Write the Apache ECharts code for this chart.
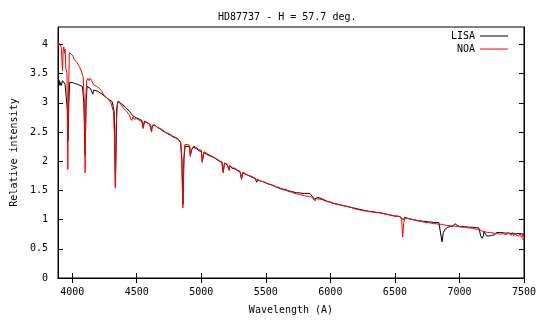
<!DOCTYPE html>
<html>
<head>
<meta charset="utf-8">
<script src="https://cdn.jsdelivr.net/npm/echarts@6/dist/echarts.min.js"></script>
<style>
  html, body { margin: 0; padding: 0; background: #fff; }
  #chart { width: 540px; height: 320px; }
</style>
</head>
<body>
<div id="chart"></div>
<script>
// 波长刻度 / 强度刻度
var xTicks = [4000, 4500, 5000, 5500, 6000, 6500, 7000, 7500];
var yTicks = [0, 0.5, 1, 1.5, 2, 2.5, 3, 3.5, 4];

// LISA 光谱 [波长, 相对强度]
var lisa = [
    [3890, 3.42], [3900, 3.38], [3905, 3.30], [3910, 3.35], [3915, 3.30], [3925, 3.38], [3935, 3.36],
    [3945, 3.32], [3955, 3.30], [3962, 2.90], [3968, 2.35], [3974, 3.00], [3980, 3.35],
    [3990, 3.38], [4000, 3.35], [4010, 3.37], [4020, 3.33], [4030, 3.35], [4040, 3.32],
    [4050, 3.34], [4060, 3.30], [4070, 3.33], [4080, 3.28], [4090, 3.00], [4100, 2.10],
    [4108, 3.00], [4115, 3.28], [4125, 3.30], [4140, 3.25], [4150, 3.28], [4160, 3.15], [4165, 3.22],
    [4180, 3.25], [4195, 3.20], [4210, 3.22], [4225, 3.16], [4240, 3.18], [4260, 3.10],
    [4275, 3.12], [4290, 3.05], [4310, 3.02], [4325, 2.85], [4335, 1.55], [4345, 2.90],
    [4355, 3.03], [4370, 3.00], [4385, 2.98], [4400, 2.96], [4415, 2.92], [4430, 2.90],
    [4445, 2.85], [4460, 2.86], [4470, 2.78], [4480, 2.80], [4500, 2.74], [4520, 2.72],
    [4540, 2.70], [4550, 2.58], [4560, 2.69], [4580, 2.66], [4600, 2.64], [4615, 2.52], [4620, 2.60], [4640, 2.62],
    [4660, 2.58], [4680, 2.56], [4700, 2.52], [4720, 2.50], [4740, 2.47], [4760, 2.45],
    [4780, 2.42], [4800, 2.40], [4820, 2.38], [4840, 2.32], [4850, 2.00], [4858, 1.26],
    [4866, 2.05], [4875, 2.26], [4890, 2.26], [4910, 2.25], [4915, 2.10], [4925, 2.20], [4940, 2.24],
    [4960, 2.22], [4980, 2.18], [5000, 2.17], [5007, 2.00], [5020, 2.15], [5040, 2.12], [5060, 2.10],
    [5080, 2.08], [5100, 2.06], [5120, 2.03], [5140, 2.00], [5160, 1.98], [5170, 1.82],
    [5180, 1.97], [5200, 1.94], [5217, 1.85], [5220, 1.92], [5240, 1.88], [5260, 1.87], [5280, 1.84],
    [5300, 1.82], [5312, 1.70], [5320, 1.80], [5340, 1.78], [5360, 1.76], [5380, 1.74], [5400, 1.72],
    [5420, 1.70], [5428, 1.64], [5440, 1.68], [5460, 1.66], [5480, 1.65], [5500, 1.63],
    [5520, 1.61], [5540, 1.60], [5560, 1.58], [5580, 1.56], [5600, 1.55], [5620, 1.53],
    [5640, 1.52], [5660, 1.51], [5680, 1.49], [5700, 1.48], [5720, 1.47], [5740, 1.46],
    [5760, 1.46], [5780, 1.45], [5800, 1.45], [5820, 1.45], [5840, 1.45], [5860, 1.40],
    [5875, 1.35], [5890, 1.33], [5900, 1.38], [5920, 1.37], [5940, 1.35], [5960, 1.33],
    [5980, 1.31], [6000, 1.30], [6020, 1.28], [6040, 1.27], [6060, 1.26], [6080, 1.25],
    [6100, 1.24], [6120, 1.23], [6140, 1.22], [6160, 1.21], [6180, 1.20], [6200, 1.19],
    [6220, 1.18], [6240, 1.17], [6260, 1.16], [6280, 1.15], [6300, 1.14], [6320, 1.14],
    [6340, 1.13], [6360, 1.12], [6380, 1.12], [6400, 1.11], [6420, 1.10], [6440, 1.09],
    [6460, 1.08], [6480, 1.07], [6500, 1.06], [6520, 1.06], [6540, 1.05], [6555, 1.02],
    [6565, 1.00], [6575, 1.04], [6600, 1.02], [6620, 1.01], [6640, 1.00], [6660, 0.99],
    [6680, 0.98], [6700, 0.98], [6720, 0.97], [6740, 0.97], [6760, 0.96], [6780, 0.96],
    [6800, 0.95], [6820, 0.95], [6840, 0.95], [6855, 0.95], [6865, 0.62], [6875, 0.78],
    [6890, 0.84], [6910, 0.87], [6930, 0.88], [6950, 0.89], [6965, 0.93], [6975, 0.90],
    [6990, 0.89], [7010, 0.88], [7040, 0.88], [7070, 0.87], [7100, 0.87], [7130, 0.86],
    [7150, 0.86], [7165, 0.72], [7175, 0.68], [7185, 0.72], [7190, 0.80], [7200, 0.79],
    [7210, 0.72], [7230, 0.72], [7250, 0.73], [7270, 0.74], [7290, 0.78], [7320, 0.78],
    [7350, 0.77], [7380, 0.77], [7410, 0.76], [7440, 0.76], [7470, 0.76], [7500, 0.75]
];

// NOA 光谱 [波长, 相对强度]
var noa = [
    [3890, 4.06], [3895, 3.98], [3900, 4.02], [3910, 4.00], [3915, 3.95], [3920, 3.98],
    [3925, 3.55], [3930, 3.90], [3935, 3.96], [3940, 3.85], [3945, 3.92], [3950, 3.60],
    [3955, 3.55], [3960, 3.50], [3966, 1.86], [3972, 3.20], [3978, 3.86], [3990, 3.84],
    [4000, 3.82], [4010, 3.78], [4015, 3.74], [4025, 3.72], [4035, 3.70], [4045, 3.66],
    [4055, 3.62], [4065, 3.58], [4075, 3.55], [4085, 3.45], [4094, 3.00], [4100, 1.80],
    [4106, 3.10], [4112, 3.38], [4120, 3.42], [4130, 3.38], [4140, 3.42], [4150, 3.38],
    [4160, 3.36], [4170, 3.30], [4180, 3.32], [4190, 3.28], [4200, 3.26], [4210, 3.25],
    [4220, 3.22], [4230, 3.20], [4240, 3.15], [4250, 3.16], [4260, 3.10], [4270, 3.08],
    [4280, 3.06], [4290, 3.04], [4300, 3.00], [4310, 2.98], [4320, 2.85], [4328, 2.40],
    [4334, 1.55], [4340, 2.60], [4350, 2.98], [4360, 3.02], [4375, 2.98], [4390, 2.96],
    [4400, 2.90], [4410, 2.92], [4420, 2.86], [4430, 2.88], [4440, 2.80], [4450, 2.82],
    [4460, 2.70], [4470, 2.76], [4480, 2.72], [4500, 2.73], [4520, 2.70], [4540, 2.68],
    [4550, 2.56], [4560, 2.68], [4580, 2.66], [4600, 2.64], [4615, 2.50], [4620, 2.62], [4640, 2.62], [4660, 2.58],
    [4680, 2.56], [4700, 2.54], [4720, 2.50], [4740, 2.48], [4760, 2.46], [4780, 2.43],
    [4800, 2.41], [4820, 2.38], [4840, 2.33], [4848, 2.10], [4857, 1.20], [4864, 2.00],
    [4872, 2.28], [4890, 2.29], [4910, 2.27], [4915, 2.08], [4925, 2.20], [4940, 2.26], [4960, 2.24],
    [4980, 2.20], [5000, 2.19], [5007, 1.98], [5020, 2.16], [5040, 2.14], [5060, 2.11], [5080, 2.09],
    [5100, 2.06], [5120, 2.04], [5140, 2.01], [5160, 1.99], [5170, 1.80], [5180, 1.97],
    [5200, 1.95], [5217, 1.84], [5220, 1.93], [5240, 1.89], [5260, 1.88], [5280, 1.85], [5300, 1.83],
    [5312, 1.69], [5320, 1.81], [5340, 1.79], [5360, 1.76], [5380, 1.75], [5400, 1.73], [5420, 1.70],
    [5440, 1.68], [5460, 1.66], [5480, 1.65], [5500, 1.63], [5520, 1.61], [5540, 1.60],
    [5560, 1.58], [5580, 1.56], [5600, 1.54], [5620, 1.52], [5640, 1.51], [5660, 1.50],
    [5680, 1.48], [5700, 1.47], [5720, 1.45], [5740, 1.44], [5760, 1.43], [5780, 1.42],
    [5800, 1.41], [5820, 1.40], [5840, 1.40], [5860, 1.38], [5880, 1.32], [5890, 1.36],
    [5900, 1.37], [5920, 1.35], [5940, 1.34], [5960, 1.32], [5980, 1.31], [6000, 1.30],
    [6020, 1.28], [6040, 1.27], [6060, 1.26], [6080, 1.25], [6100, 1.24], [6120, 1.23],
    [6140, 1.22], [6160, 1.21], [6180, 1.19], [6200, 1.18], [6220, 1.17], [6240, 1.16],
    [6260, 1.15], [6280, 1.15], [6300, 1.14], [6320, 1.13], [6340, 1.13], [6360, 1.12],
    [6380, 1.12], [6400, 1.11], [6420, 1.10], [6440, 1.09], [6460, 1.08], [6480, 1.07],
    [6500, 1.06], [6520, 1.06], [6540, 1.05], [6552, 1.00], [6560, 0.70], [6568, 0.95],
    [6580, 1.03], [6600, 1.02], [6620, 1.01], [6640, 1.00], [6660, 0.99], [6680, 0.98],
    [6700, 0.97], [6720, 0.96], [6740, 0.95], [6760, 0.95], [6780, 0.94], [6800, 0.93],
    [6820, 0.93], [6840, 0.92], [6860, 0.92], [6880, 0.91], [6900, 0.90], [6920, 0.90],
    [6940, 0.89], [6960, 0.89], [6980, 0.88], [7000, 0.88], [7020, 0.87], [7040, 0.87],
    [7060, 0.86], [7080, 0.86], [7100, 0.85], [7120, 0.84], [7140, 0.83], [7160, 0.82],
    [7180, 0.80], [7200, 0.79], [7220, 0.78], [7240, 0.78], [7260, 0.77], [7280, 0.76],
    [7300, 0.76], [7320, 0.75], [7340, 0.76], [7360, 0.74], [7380, 0.77], [7400, 0.73],
    [7410, 0.78], [7420, 0.72], [7430, 0.77], [7440, 0.73], [7450, 0.76], [7460, 0.72],
    [7470, 0.76], [7480, 0.70], [7490, 0.74], [7495, 0.65], [7500, 0.73]
];

var chart = echarts.init(document.getElementById('chart'));
var font = 'DejaVu Sans Mono';

var option = {
    animation: false,
    backgroundColor: '#fff',
    title: {
        text: 'HD87737 - H = 57.7 deg.',
        left: 213,
        top: 7,
        textStyle: { fontFamily: font, fontSize: 10, fontWeight: 'normal', color: '#000' }
    },
    legend: {
        orient: 'vertical',
        right: 27,
        top: 26,
        align: 'right',
        icon: 'rect',
        itemWidth: 28,
        itemHeight: 1,
        itemGap: 3,
        textStyle: { fontFamily: font, fontSize: 10, color: '#000' },
        data: ['LISA', 'NOA']
    },
    grid: {
        left: 58, right: 16, top: 27, bottom: 41,
        show: true, borderColor: '#000', borderWidth: 1
    },
    xAxis: [
        {
            type: 'value',
            min: 3890,
            max: 7500,
            name: 'Wavelength (A)',
            nameLocation: 'middle',
            nameGap: 27,
            nameTextStyle: { fontFamily: font, fontSize: 10, color: '#000' },
            axisLine: { show: true, lineStyle: { color: '#000' } },
            axisTick: { inside: true, length: 5, customValues: xTicks, lineStyle: { color: '#000' } },
            axisLabel: {
                customValues: xTicks, margin: 9, fontFamily: font, fontSize: 10, color: '#000',
                formatter: function (v) { return String(v); }
            },
            splitLine: { show: false }
        },
        {
            type: 'value',
            position: 'top',
            min: 3890,
            max: 7500,
            axisLine: { show: true, lineStyle: { color: '#000' } },
            axisTick: { inside: true, length: 5, customValues: xTicks, lineStyle: { color: '#000' } },
            axisLabel: { show: false },
            splitLine: { show: false }
        }
    ],
    yAxis: [
        {
            type: 'value',
            min: 0,
            max: 4.3,
            name: 'Relative intensity',
            nameLocation: 'middle',
            nameGap: 36,
            nameTextStyle: { fontFamily: font, fontSize: 10, color: '#000' },
            axisLine: { show: true, lineStyle: { color: '#000' } },
            axisTick: { inside: true, length: 5, customValues: yTicks, lineStyle: { color: '#000' } },
            axisLabel: { customValues: yTicks, margin: 10, fontFamily: font, fontSize: 10, color: '#000' },
            splitLine: { show: false }
        },
        {
            type: 'value',
            position: 'right',
            min: 0,
            max: 4.3,
            axisLine: { show: true, lineStyle: { color: '#000' } },
            axisTick: { inside: true, length: 5, customValues: yTicks, lineStyle: { color: '#000' } },
            axisLabel: { show: false },
            splitLine: { show: false }
        }
    ],
    series: [
        {
            name: 'LISA',
            type: 'line',
            symbol: 'none',
            data: lisa,
            lineStyle: { color: '#000', width: 1 },
            itemStyle: { color: '#000' }
        },
        {
            name: 'NOA',
            type: 'line',
            symbol: 'none',
            data: noa,
            lineStyle: { color: '#ff0000', width: 1 },
            itemStyle: { color: '#ff0000' }
        }
    ]
};
chart.setOption(option);
</script>
</body>
</html>
